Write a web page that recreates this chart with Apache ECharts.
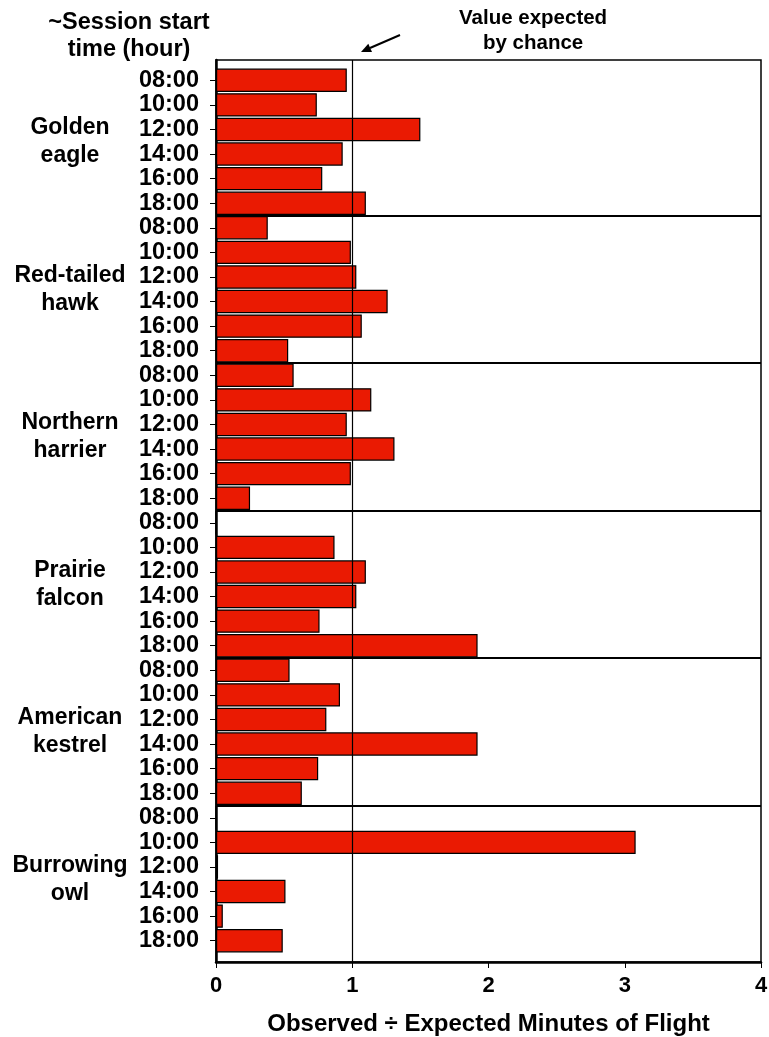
<!DOCTYPE html>
<html>
<head>
<meta charset="utf-8">
<script src="https://cdn.jsdelivr.net/npm/echarts@6/dist/echarts.min.js"></script>
<style>
html,body{margin:0;padding:0;background:#fff;}
#chart{width:769px;height:1037px;}
</style>
</head>
<body>
<div id="chart"></div>
<script>
// flight ratio by session start hour, per species
var hours = ['08:00', '10:00', '12:00', '14:00', '16:00', '18:00'];
var species = ['Golden\neagle', 'Red-tailed\nhawk', 'Northern\nharrier', 'Prairie\nfalcon', 'American\nkestrel', 'Burrowing\nowl'];
var goldenEagle = [0.96, 0.74, 1.50, 0.93, 0.78, 1.10];
var redTailedHawk = [0.38, 0.99, 1.03, 1.26, 1.07, 0.53];
var northernHarrier = [0.57, 1.14, 0.96, 1.31, 0.99, 0.25];
var prairieFalcon = [0, 0.87, 1.10, 1.03, 0.76, 1.92];
var americanKestrel = [0.54, 0.91, 0.81, 1.92, 0.75, 0.63];
var burrowingOwl = [0, 3.08, 0.015, 0.51, 0.05, 0.49];
var xTicks = [0, 1, 2, 3, 4];
var chanceValue = 1;

var groups = [goldenEagle, redTailedHawk, northernHarrier, prairieFalcon, americanKestrel, burrowingOwl];
var cats = [], vals = [];
groups.forEach(function (g) {
    g.forEach(function (v, i) { cats.push(hours[i]); vals.push(v); });
});

var font = "'Liberation Sans', Arial, sans-serif";
var chart = echarts.init(document.getElementById('chart'));
var option = {
    animation: false,
    title: {
        text: '~Session start\ntime (hour)',
        left: 124,
        top: 4,
        textAlign: 'center',
        textStyle: {fontFamily: font, fontWeight: 'bold', fontSize: 23.5, lineHeight: 27, color: '#000'}
    },
    graphic: [
        {type: 'text', left: 459, top: 6, style: {text: 'Value expected\nby chance', x: 0, textAlign: 'center', fontFamily: font, fontWeight: 'bold', fontSize: 20.5, lineHeight: 25, fill: '#000'}},
        {type: 'line', shape: {x1: 400, y1: 35, x2: 370, y2: 48}, style: {stroke: '#000', lineWidth: 2}},
        {type: 'polygon', shape: {points: [[361, 52], [372, 52], [368.3, 43.8]]}, style: {fill: '#000'}}
    ],
    grid: [
        {left: 216, right: 8, top: 60, bottom: 75, outerBoundsMode: 'none', containLabel: false, show: true, borderColor: '#000', borderWidth: 1.5, backgroundColor: 'transparent'},
        {left: 216, right: 8, top: 68, bottom: 84, outerBoundsMode: 'none', containLabel: false}
    ],
    xAxis: [
        {
            type: 'value', gridIndex: 0, min: xTicks[0], max: xTicks[xTicks.length - 1], interval: 1,
            name: 'Observed ÷ Expected Minutes of Flight',
            nameLocation: 'middle', nameGap: 50,
            nameTextStyle: {fontFamily: font, fontWeight: 'bold', fontSize: 24, color: '#000'},
            axisLine: {lineStyle: {color: '#000', width: 2.5}},
            axisTick: {length: 6, lineStyle: {color: '#000', width: 1}},
            axisLabel: {fontFamily: font, fontWeight: 'bold', fontSize: 22, color: '#000', margin: 13},
            splitLine: {show: false}
        },
        {type: 'value', gridIndex: 1, min: 0, max: 4, show: false}
    ],
    yAxis: [
        {
            type: 'value', gridIndex: 0, min: 0, max: 1,
            axisLine: {show: true, lineStyle: {color: '#000', width: 2.5}},
            axisTick: {show: false}, axisLabel: {show: false}, splitLine: {show: false}
        },
        {
            type: 'category', gridIndex: 1, data: cats, inverse: true, position: 'left',
            axisLine: {show: false},
            axisTick: {show: true, alignWithLabel: true, length: 6, lineStyle: {color: '#000'}},
            axisLabel: {interval: 0, fontFamily: font, fontWeight: 'bold', fontSize: 23.5, color: '#000', margin: 17},
            splitLine: {
                show: true,
                showMaxLine: false,
                interval: function (idx) { return idx > 0 && idx % hours.length === 0; },
                lineStyle: {color: '#000', width: 2}
            }
        },
        {
            type: 'category', gridIndex: 1, data: species, inverse: true, position: 'left',
            axisLine: {show: false}, axisTick: {show: false},
            axisLabel: {interval: 0, fontFamily: font, fontWeight: 'bold', fontSize: 23, lineHeight: 28, color: '#000', align: 'center', margin: 146}
        }
    ],
    series: [
        {
            type: 'bar', xAxisIndex: 1, yAxisIndex: 1, data: vals,
            barCategoryGap: '5%',
            itemStyle: {color: '#EA1A02', borderColor: '#000', borderWidth: 1.2},
            silent: true
        },
        {
            type: 'scatter', xAxisIndex: 0, yAxisIndex: 0, data: [[chanceValue, 0]], symbolSize: 0, silent: true,
            markLine: {
                symbol: 'none', silent: true, label: {show: false},
                lineStyle: {color: '#000', width: 1.2, type: 'solid'},
                data: [{xAxis: chanceValue}]
            }
        }
    ]
};
chart.setOption(option);
</script>
</body>
</html>
